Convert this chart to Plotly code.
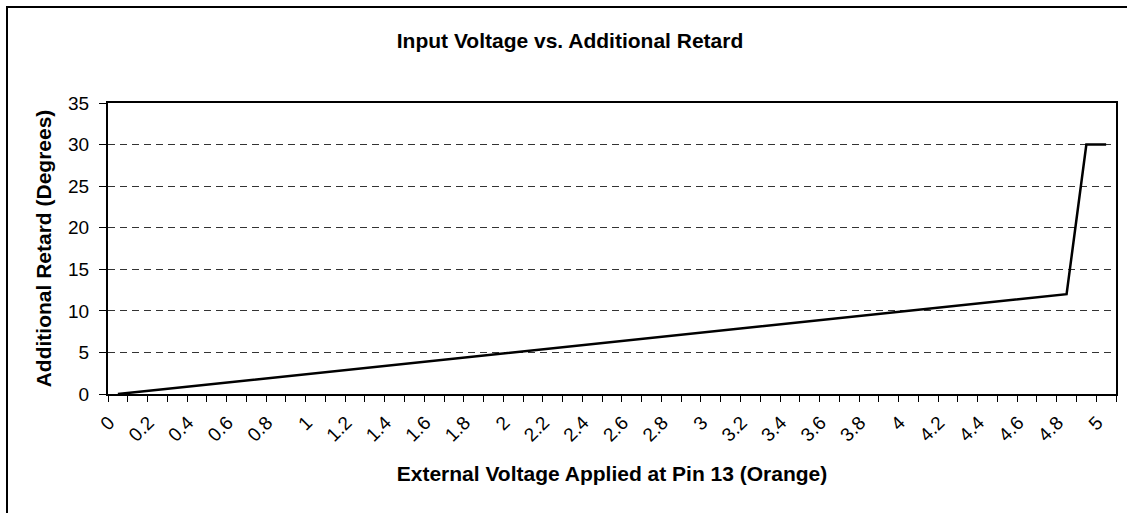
import plotly.graph_objects as go

voltage = [0.0, 0.1, 0.2, 0.3, 0.4, 0.5, 0.6, 0.7, 0.8, 0.9,
           1.0, 1.1, 1.2, 1.3, 1.4, 1.5, 1.6, 1.7, 1.8, 1.9,
           2.0, 2.1, 2.2, 2.3, 2.4, 2.5, 2.6, 2.7, 2.8, 2.9,
           3.0, 3.1, 3.2, 3.3, 3.4, 3.5, 3.6, 3.7, 3.8, 3.9,
           4.0, 4.1, 4.2, 4.3, 4.4, 4.5, 4.6, 4.7, 4.8, 4.9, 5.0]
retard = [0, 0.25, 0.5, 0.75, 1.0, 1.25, 1.5, 1.75, 2.0, 2.25,
          2.5, 2.75, 3.0, 3.25, 3.5, 3.75, 4.0, 4.25, 4.5, 4.75,
          5.0, 5.25, 5.5, 5.75, 6.0, 6.25, 6.5, 6.75, 7.0, 7.25,
          7.5, 7.75, 8.0, 8.25, 8.5, 8.75, 9.0, 9.25, 9.5, 9.75,
          10.0, 10.25, 10.5, 10.75, 11.0, 11.25, 11.5, 11.75, 12.0, 30, 30]

tick_vals = [0.0, 0.2, 0.4, 0.6, 0.8, 1.0, 1.2, 1.4, 1.6, 1.8, 2.0, 2.2, 2.4,
             2.6, 2.8, 3.0, 3.2, 3.4, 3.6, 3.8, 4.0, 4.2, 4.4, 4.6, 4.8, 5.0]
tick_text = ["0", "0.2", "0.4", "0.6", "0.8", "1", "1.2", "1.4", "1.6", "1.8",
             "2", "2.2", "2.4", "2.6", "2.8", "3", "3.2", "3.4", "3.6", "3.8",
             "4", "4.2", "4.4", "4.6", "4.8", "5"]

FONT = "Arial, Liberation Sans, sans-serif"
LABEL_SHIFT = -0.045  # rotated labels sit slightly left of each category centre

L, R, T, B = 108, 11, 103, 119
W, H = 1127, 513
PW, PH = W - L - R, H - T - B

fig = go.Figure()
fig.add_trace(go.Scatter(x=voltage, y=retard, mode="lines",
                         line=dict(color="black", width=2.5),
                         showlegend=False, hoverinfo="x+y"))

fig.update_layout(
    width=W, height=H,
    margin=dict(l=L, r=R, t=T, b=B),
    paper_bgcolor="white", plot_bgcolor="white",
    font=dict(family=FONT, color="black", size=19),
    title=dict(text="<b>Input Voltage vs. Additional Retard</b>",
               font=dict(family=FONT, size=21, color="black"),
               x=(570 - L) / PW, xanchor="center", xref="paper",
               y=1 - 41 / H, yanchor="middle", yref="container"),
    shapes=[dict(type="rect", xref="paper", yref="paper",
                 x0=(7 - L) / PW, x1=(W + 10 - L) / PW,
                 y0=(H - B - (H + 10)) / PH, y1=(H - B - 7) / PH,
                 line=dict(color="black", width=2), layer="below")],
)

fig.update_xaxes(
    range=[-0.05, 5.05], automargin=False,
    tickmode="array", tickvals=[v + LABEL_SHIFT for v in tick_vals],
    ticktext=tick_text,
    tickangle=-45,
    ticks="outside", ticklen=8, tickcolor="rgba(0,0,0,0)",
    tickfont=dict(family=FONT, size=19, color="black"),
    showgrid=False, zeroline=False,
    showline=True, linecolor="black", linewidth=2, mirror=True,
    minor=dict(tick0=0.05, dtick=0.1, ticks="outside", ticklen=6,
               tickcolor="black", tickwidth=1, showgrid=False),
    title=dict(text="<b>External Voltage Applied at Pin 13 (Orange)</b>",
               font=dict(family=FONT, size=21, color="black"), standoff=22),
)

fig.update_yaxes(
    range=[0, 35], tickmode="linear", tick0=0, dtick=5, automargin=False,
    ticks="outside", ticklen=7, tickcolor="black", tickwidth=1,
    ticklabelstandoff=6,
    tickfont=dict(family=FONT, size=19, color="black"),
    showgrid=True, gridcolor="#333333", gridwidth=1, griddash="7px,5px",
    zeroline=False,
    showline=True, linecolor="black", linewidth=2, mirror=True,
    title=dict(text="<b>Additional Retard (Degrees)</b>",
               font=dict(family=FONT, size=21, color="black"), standoff=11),
)

fig.write_html("out.html",
               config={"displayModeBar": False},
               post_script="document.body.style.margin='0';"
                           "document.body.style.overflow='hidden';")
